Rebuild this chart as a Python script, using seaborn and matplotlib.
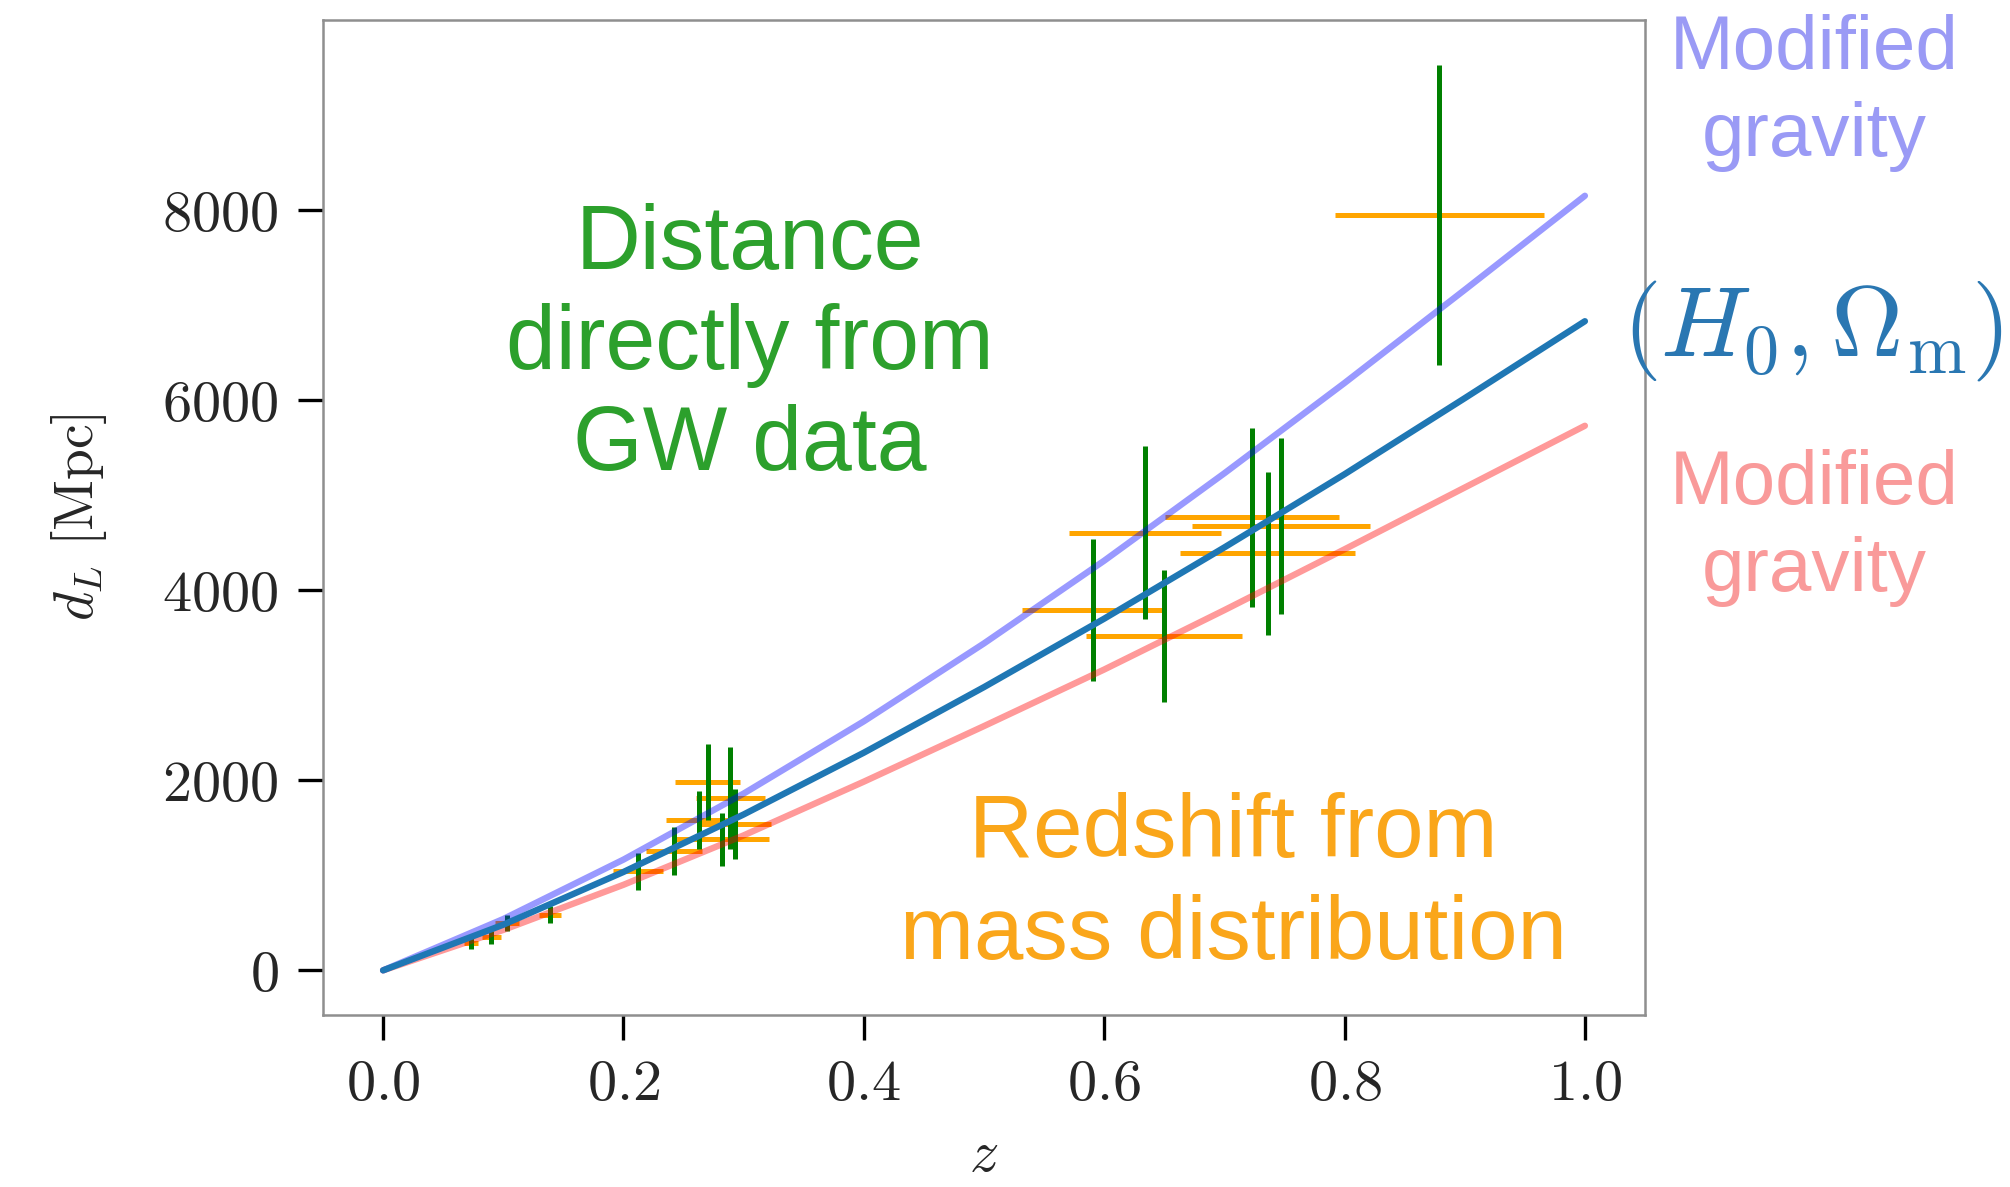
import numpy as np
import pandas as pd
import matplotlib
matplotlib.use("Agg")
import matplotlib.pyplot as plt
import seaborn as sns

# distance-redshift curves
z_grid = [0.0, 0.1, 0.2, 0.3, 0.4, 0.5, 0.6, 0.7, 0.8, 0.9, 1.0]
dl_mg_high = [0, 540, 1165, 1860, 2620, 3440, 4310, 5230, 6180, 7160, 8150]
dl_lcdm = [0, 480, 1035, 1640, 2290, 2980, 3700, 4450, 5220, 6020, 6830]
dl_mg_low = [0, 425, 900, 1420, 1985, 2570, 3165, 3790, 4430, 5080, 5730]

# GW events: redshift, distance and their errors
ev_z = [0.073, 0.090, 0.103, 0.139, 0.212, 0.242, 0.263, 0.270, 0.282, 0.289, 0.293,
        0.591, 0.634, 0.650, 0.723, 0.736, 0.747, 0.879]
ev_dl = [288, 346, 498, 586, 1041, 1256, 1582, 1977, 1380, 1813, 1540,
         3790, 4604, 3518, 4766, 4387, 4672, 7949]
ev_zerr = [0.006, 0.008, 0.010, 0.009, 0.021, 0.023, 0.028, 0.027, 0.039, 0.029, 0.030,
           0.059, 0.063, 0.065, 0.072, 0.073, 0.074, 0.087]
ev_dlerr = [60, 70, 88, 87, 193, 249, 301, 400, 280, 540, 370,
            747, 910, 696, 938, 861, 926, 1577]

sns.set_style("ticks")
plt.rcParams["mathtext.fontset"] = "cm"
plt.rcParams["font.family"] = ["Liberation Sans", "DejaVu Sans"]

fig = plt.figure(figsize=(20.1, 11.87), dpi=100)
ax = fig.add_axes([0.1607, 0.1449, 0.6577, 0.8383])

ax.errorbar(ev_z, ev_dl, xerr=ev_zerr, fmt="none", ecolor="orange", elinewidth=3.6, zorder=2)
ax.errorbar(ev_z, ev_dl, yerr=ev_dlerr, fmt="none", ecolor="green", elinewidth=3.6, zorder=3)

curves = pd.DataFrame({"z": z_grid, "high": dl_mg_high, "lcdm": dl_lcdm, "low": dl_mg_low})
sns.lineplot(data=curves, x="z", y="high", color="blue", alpha=0.4, lw=4.6, ax=ax, zorder=4)
sns.lineplot(data=curves, x="z", y="low", color="red", alpha=0.4, lw=4.6, ax=ax, zorder=4)
sns.lineplot(data=curves, x="z", y="lcdm", color="#1f77b4", lw=4.6, ax=ax, zorder=5)

ax.set_xlim(-0.05, 1.05)
ax.set_ylim(-470, 10000)
xt = [0.0, 0.2, 0.4, 0.6, 0.8, 1.0]
yt = [0, 2000, 4000, 6000, 8000]
ax.set_xticks(xt)
ax.set_xticklabels(["$%.1f$" % v for v in xt])
ax.set_yticks(yt)
ax.set_yticklabels(["$%d$" % v for v in yt])
ax.tick_params(axis="both", labelsize=42, length=18, width=2.4, color="black", direction="out")
ax.tick_params(axis="y", pad=14)
ax.tick_params(axis="x", pad=13)
for s in ax.spines.values():
    s.set_color("#8f8f8f")
    s.set_linewidth(1.8)
ax.set_xlabel("$z$", fontsize=42, labelpad=12)
ax.set_ylabel(r"$d_L\ [\mathrm{Mpc}]$", fontsize=40, labelpad=38)

# annotations
fig.text(750 / 2010, 1 - 346 / 1187, "Distance\ndirectly from\nGW data", color="#2ca02c",
         fontsize=64.5, ha="center", va="center", linespacing=1.23)
fig.text(1233 / 2010, 1 - 885 / 1187, "Redshift from\nmass distribution", color="#faa61a",
         fontsize=64, ha="center", va="center", linespacing=1.28)
fig.text(1814 / 2010, 1 - 93 / 1187, "Modified\ngravity", color="#9a9af5",
         fontsize=55, ha="center", va="center", linespacing=1.3)
fig.text(1814 / 2010, 1 - 528 / 1187, "Modified\ngravity", color="#f99a9a",
         fontsize=55, ha="center", va="center", linespacing=1.3)
fig.text(1813 / 2010, 1 - 331 / 1187, r"$(H_0, \Omega_\mathrm{m})$", color="#2a77b2",
         fontsize=72, ha="center", va="center")

fig.savefig("out.png", dpi=100)
